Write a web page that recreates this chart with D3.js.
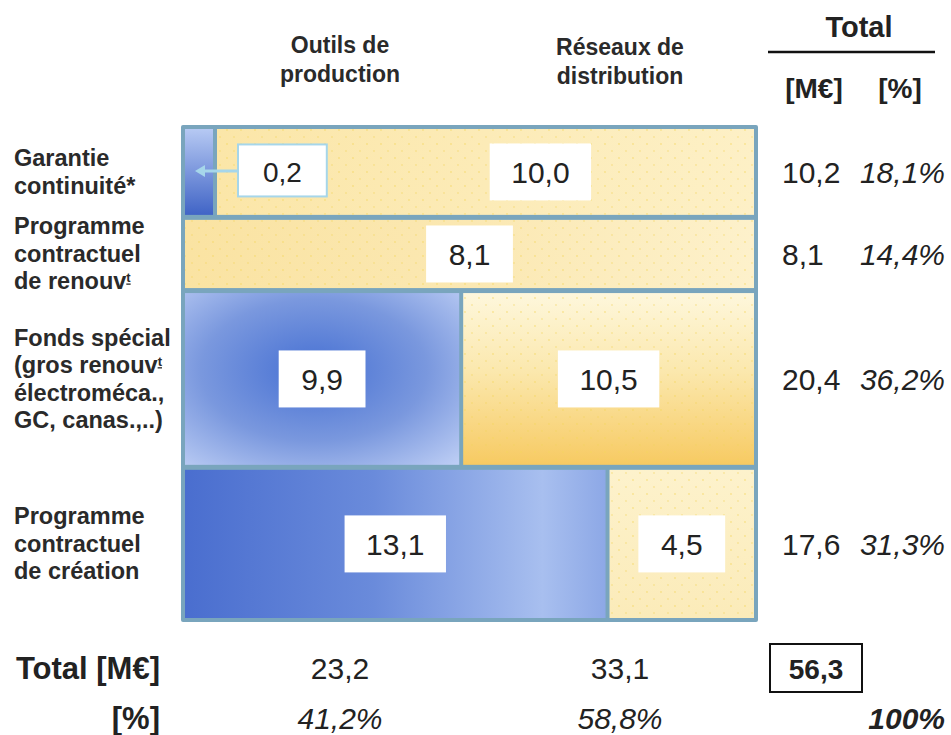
<!DOCTYPE html>
<html>
<head>
<meta charset="utf-8">
<script src="https://cdn.jsdelivr.net/npm/d3@7/dist/d3.min.js"></script>
<style>
  html, body { margin: 0; padding: 0; background: #ffffff; }
  svg { display: block; font-family: Arial, "Liberation Sans", Helvetica, sans-serif; }
</style>
</head>
<body>
<svg id="chart" width="951" height="735"></svg>
<script>
// Budget split: rows = financing programmes, columns = asset type
const rowLabels = [
  ["Garantie", "continuité*"],
  ["Programme", "contractuel", "de renouv^t"],
  ["Fonds spécial", "(gros renouv^t", "électroméca.,", "GC, canas.,..)"],
  ["Programme", "contractuel", "de création"]
];
const columnLabels = [["Outils de", "production"], ["Réseaux de", "distribution"]];
const productionValues   = [0.2, 0, 9.9, 13.1];   // M€
const distributionValues = [10.0, 8.1, 10.5, 4.5]; // M€
const totalHeader = "Total";
const unitLabels = ["[M€]", "[%]"];
const bottomLabels = ["Total [M€]", "[%]"];

const locale = d3.formatLocale({ decimal: ",", thousands: " ", grouping: [3], currency: ["", "€"] });
const fmt1 = locale.format(".1f");
const fmt0 = locale.format(".0f");

const svg = d3.select("#chart");
const defs = svg.append("defs");
const ink = "#222";

const series = [productionValues, distributionValues];
const rowTotals = rowLabels.map((_, i) => d3.sum(series, s => s[i]));
const colTotals = series.map(s => d3.sum(s));
const grand = d3.sum(rowTotals);

// frame geometry
const frame = { x: 181, y: 125, w: 577, h: 497 };
const pad = 4, gap = 5, colGap = 4, minSeg = 28;
const inner = { x: frame.x + pad, y: frame.y + pad, w: frame.w - 2 * pad, h: frame.h - 2 * pad };

const yScale = d3.scaleLinear().domain([0, grand])
  .range([0, inner.h - gap * (rowLabels.length - 1)]);
const colX = d3.scalePoint().domain([0, 1]).range([340, 620]);

// dot texture used on the yellow cells
const pat = defs.append("pattern").attr("id", "dots").attr("patternUnits", "userSpaceOnUse")
  .attr("width", 14).attr("height", 14);
pat.append("circle").attr("cx", 3).attr("cy", 4).attr("r", 0.9).attr("fill", "#f3d45a").attr("opacity", 0.55);
pat.append("circle").attr("cx", 10).attr("cy", 11).attr("r", 0.9).attr("fill", "#f3d45a").attr("opacity", 0.45);

function linear(id, x2, y2, stops) {
  const g = defs.append("linearGradient").attr("id", id)
    .attr("x1", 0).attr("y1", 0).attr("x2", x2).attr("y2", y2);
  stops.forEach(([o, c]) => g.append("stop").attr("offset", o).attr("stop-color", c));
  return `url(#${id})`;
}
function radial(id, cx, cy, r, stops) {
  const g = defs.append("radialGradient").attr("id", id)
    .attr("cx", cx).attr("cy", cy).attr("r", r);
  stops.forEach(([o, c]) => g.append("stop").attr("offset", o).attr("stop-color", c));
  return `url(#${id})`;
}
// per-row shading of each column's colour
const fills = [
  [linear("b0", 0, 1, [[0, "#b6c9f3"], [1, "#4064c6"]]),
   linear("y0", 1, 0, [[0, "#fbe6a8"], [1, "#fdf0c6"]])],
  [null,
   linear("y1", 1, 0, [[0, "#fae3a2"], [0.5, "#fbe8b2"], [1, "#fdf1cb"]])],
  [radial("b2", 0.47, 0.45, 0.75, [[0, "#4670d3"], [0.55, "#7a98de"], [1, "#bccdf4"]]),
   linear("y2", 0, 1, [[0, "#fef7dc"], [0.45, "#fbe8ae"], [1, "#f7ca62"]])],
  [linear("b3", 1, 0, [[0, "#4a6ecf"], [0.45, "#6a8bdb"], [0.85, "#a8bfef"], [1, "#8da8e6"]]),
   linear("y3", 0, 1, [[0, "#fdf2cc"], [1, "#fbebb9"]])]
];

// frame
svg.append("rect").attr("x", frame.x).attr("y", frame.y).attr("width", frame.w).attr("height", frame.h)
  .attr("rx", 2).attr("fill", "#79a5bd");

const cellsG = svg.append("g");
const labelsG = svg.append("g");

let cum = 0;
rowLabels.forEach((lines, i) => {
  const y0 = inner.y + yScale(cum) + i * gap;
  const h = yScale(rowTotals[i]);
  cum += rowTotals[i];
  const cy = y0 + h / 2;

  const segs = series.map((s, j) => ({ v: s[i], j })).filter(d => d.v > 0);
  const xRow = d3.scaleLinear().domain([0, rowTotals[i]])
    .range([0, inner.w - colGap * (segs.length - 1)]);
  let x = inner.x;
  let remaining = inner.w - colGap * (segs.length - 1);
  segs.forEach((d, k) => {
    let w = k === segs.length - 1 ? remaining : Math.max(xRow(d.v), minSeg);
    remaining -= w;
    d.x = x; d.w = w;
    x += w + colGap;
  });

  segs.forEach(d => {
    cellsG.append("rect").attr("x", d.x).attr("y", y0).attr("width", d.w).attr("height", h)
      .attr("fill", fills[i][d.j]);
    if (d.j === 1) {
      cellsG.append("rect").attr("x", d.x).attr("y", y0).attr("width", d.w).attr("height", h)
        .attr("fill", "url(#dots)");
    }
  });

  // value boxes; narrow cells get a callout box to their right
  let freeLeft = null;
  segs.forEach(d => {
    const txt = fmt1(d.v);
    const tw = txt.length * 14.6;
    const bw = tw + 43, bh = 57;
    if (d.w < bw + 10) {
      const bx = d.x + d.w + 25;
      labelsG.append("rect").attr("x", bx).attr("y", cy - bh / 2 + 1).attr("width", bw + 2).attr("height", bh - 5)
        .attr("fill", "#fff").attr("stroke", "#a6d6ea").attr("stroke-width", 2);
      labelsG.append("text").attr("x", bx + (bw + 2) / 2).attr("y", cy + 10).attr("text-anchor", "middle")
        .attr("font-size", 28).attr("fill", ink).text(txt);
      labelsG.append("line").attr("x1", bx - 1).attr("x2", d.x + 16).attr("y1", cy - 1).attr("y2", cy - 1)
        .attr("stroke", "#a6d6ea").attr("stroke-width", 3);
      labelsG.append("path")
        .attr("d", `M${d.x + 10},${cy - 1} L${d.x + 20},${cy - 7} L${d.x + 20},${cy + 5} Z`)
        .attr("fill", "#a6d6ea");
      freeLeft = bx + bw + 2;
    } else {
      const left = (freeLeft !== null && freeLeft > d.x) ? freeLeft : d.x;
      const cx = (left + d.x + d.w) / 2;
      labelsG.append("rect").attr("x", cx - bw / 2).attr("y", cy - bh / 2).attr("width", bw).attr("height", bh)
        .attr("fill", "#fff");
      labelsG.append("text").attr("x", cx).attr("y", cy + 11).attr("text-anchor", "middle")
        .attr("font-size", 30).attr("fill", ink).text(txt);
    }
  });

  // row label on the left
  const lh = 27.5;
  const t = svg.append("text").attr("font-size", 23.5).attr("font-weight", "bold").attr("fill", "#2a2a2a");
  lines.forEach((line, k) => {
    const ly = cy - (lines.length - 1) * lh / 2 + k * lh + 8;
    const parts = line.split("^");
    t.append("tspan").attr("x", 14).attr("y", ly).text(parts[0]);
    if (parts[1]) {
      t.append("tspan").attr("dy", -7).attr("font-size", 13).attr("text-decoration", "underline").text(parts[1]);
    }
  });

  // row totals
  svg.append("text").attr("x", 782).attr("y", cy + 11).attr("font-size", 30).attr("fill", ink)
    .text(fmt1(rowTotals[i]));
  svg.append("text").attr("x", 945).attr("y", cy + 11).attr("text-anchor", "end").attr("font-size", 30)
    .attr("font-style", "italic").attr("fill", ink).text(fmt1(rowTotals[i] / grand * 100) + "%");
});

// column headers
columnLabels.forEach((lines, j) => {
  lines.forEach((line, k) => {
    svg.append("text").attr("x", colX(j)).attr("y", 53 + k * 29 + j * 2).attr("text-anchor", "middle")
      .attr("font-size", 23).attr("font-weight", "bold").attr("fill", "#2a2a2a").text(line);
  });
});

// total header
svg.append("text").attr("x", 859).attr("y", 37).attr("text-anchor", "middle").attr("font-size", 29)
  .attr("font-weight", "bold").attr("fill", ink).text(totalHeader);
svg.append("line").attr("x1", 768).attr("x2", 935).attr("y1", 52).attr("y2", 52)
  .attr("stroke", "#111").attr("stroke-width", 2.5);
svg.append("text").attr("x", 814).attr("y", 98).attr("text-anchor", "middle").attr("font-size", 28)
  .attr("font-weight", "bold").attr("fill", ink).text(unitLabels[0]);
svg.append("text").attr("x", 900).attr("y", 98).attr("text-anchor", "middle").attr("font-size", 28)
  .attr("font-weight", "bold").attr("fill", ink).text(unitLabels[1]);

// bottom totals
svg.append("text").attr("x", 160).attr("y", 679).attr("text-anchor", "end").attr("font-size", 31)
  .attr("font-weight", "bold").attr("fill", ink).text(bottomLabels[0]);
svg.append("text").attr("x", 160).attr("y", 729).attr("text-anchor", "end").attr("font-size", 31)
  .attr("font-weight", "bold").attr("fill", ink).text(bottomLabels[1]);
colTotals.forEach((v, j) => {
  svg.append("text").attr("x", colX(j)).attr("y", 679).attr("text-anchor", "middle").attr("font-size", 30)
    .attr("fill", ink).text(fmt1(v));
  svg.append("text").attr("x", colX(j)).attr("y", 729).attr("text-anchor", "middle").attr("font-size", 30)
    .attr("font-style", "italic").attr("fill", ink).text(fmt1(v / grand * 100) + "%");
});
svg.append("rect").attr("x", 770).attr("y", 644).attr("width", 92).attr("height", 48)
  .attr("fill", "none").attr("stroke", "#111").attr("stroke-width", 2);
svg.append("text").attr("x", 816).attr("y", 679).attr("text-anchor", "middle").attr("font-size", 28)
  .attr("font-weight", "bold").attr("fill", ink).text(fmt1(grand));
svg.append("text").attr("x", 945).attr("y", 729).attr("text-anchor", "end").attr("font-size", 30)
  .attr("font-weight", "bold").attr("font-style", "italic").attr("fill", ink).text(fmt0(grand / grand * 100) + "%");
</script>
</body>
</html>
